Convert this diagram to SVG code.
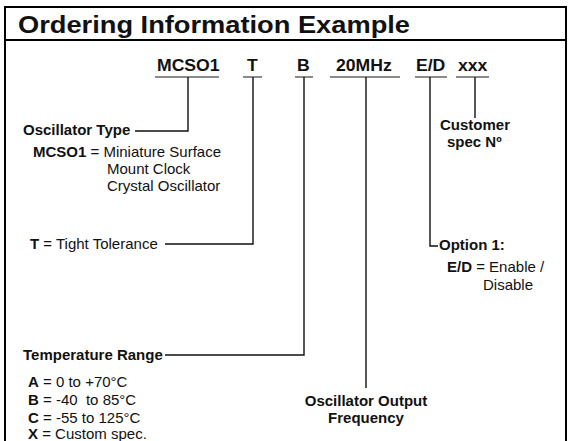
<svg xmlns="http://www.w3.org/2000/svg" width="570" height="441" viewBox="0 0 570 441">
<style>
text{font-family:"Liberation Sans",Arial,Helvetica,sans-serif;fill:#111}
.b{font-weight:bold}
.code{font-weight:bold;font-size:16px}
.lbl{font-weight:bold;font-size:15px}
.d{font-size:15px}
.ln{stroke:#111;stroke-width:1.4;fill:none}
.ul{stroke:#666;stroke-width:1.3;fill:none}
.fr{stroke:#000;stroke-width:2;fill:none}
</style>
<rect x="0" y="0" width="570" height="441" fill="#fff"/>
<g id="frame">
<path class="fr" d="M5,445 V7 H566 V445"/>
<line class="fr" x1="5" y1="40" x2="566" y2="40"/>
<text class="b" font-size="23" x="18" y="33" textLength="392" lengthAdjust="spacingAndGlyphs">Ordering Information Example</text>
</g>
<g id="codes">
<g id="code-mcso1"><text class="code" transform="translate(157,71) scale(1.1,1)">MCSO1</text></g>
<g id="code-t"><text class="code" transform="translate(247,71) scale(1.1,1)">T</text></g>
<g id="code-b"><text class="code" transform="translate(297,71) scale(1.1,1)">B</text></g>
<g id="code-freq"><text class="code" transform="translate(336,71) scale(1.1,1)">20MHz</text></g>
<g id="code-ed"><text class="code" transform="translate(416,71) scale(1.1,1)">E/D</text></g>
<g id="code-xxx"><text class="code" transform="translate(458,71) scale(1.1,1)">xxx</text></g>
</g>
<g id="connectors">
<path class="ul" d="M155,77 H219 M243,77 H262 M295,77 H313 M330,77 H400 M415,77 H447 M456,77 H489"/>
<path class="ln" d="M188,77 V131 H135"/>
<path class="ln" d="M253,77 V244 H165"/>
<path class="ln" d="M304,77 V355 H165"/>
<path class="ln" d="M366,77 V388"/>
<path class="ln" d="M430,77 V246 H438"/>
<path class="ln" d="M475,77 V118"/>
</g>
<g id="oscillator-type">
<text class="lbl" x="23" y="135">Oscillator Type</text>
<text class="d" x="33" y="157"><tspan class="b">MCSO1</tspan> = Miniature Surface</text>
<text class="d" x="107" y="174">Mount Clock</text>
<text class="d" x="107" y="191">Crystal Oscillator</text>
</g>
<g id="tolerance">
<text class="d" x="30" y="249"><tspan class="b">T</tspan> = Tight Tolerance</text>
</g>
<g id="temperature">
<text class="lbl" x="23" y="360">Temperature Range</text>
<text class="d" x="28" y="387"><tspan class="b">A</tspan> = 0 to +70°C</text>
<text class="d" x="28" y="405" xml:space="preserve"><tspan class="b">B</tspan> = -40  to 85°C</text>
<text class="d" x="28" y="423"><tspan class="b">C</tspan> = -55 to 125°C</text>
<text class="d" x="28" y="439"><tspan class="b">X</tspan> = Custom spec.</text>
</g>
<g id="frequency">
<text class="lbl" text-anchor="middle" x="366" y="406">Oscillator Output</text>
<text class="lbl" text-anchor="middle" x="366" y="423">Frequency</text>
</g>
<g id="option">
<text class="lbl" x="439" y="250">Option 1:</text>
<text class="d" x="447" y="272"><tspan class="b">E/D</tspan> = Enable /</text>
<text class="d" x="483" y="290">Disable</text>
</g>
<g id="customer">
<text class="lbl" x="440" y="130">Customer</text>
<text class="lbl" x="447" y="147">spec Nº</text>
</g>
</svg>
